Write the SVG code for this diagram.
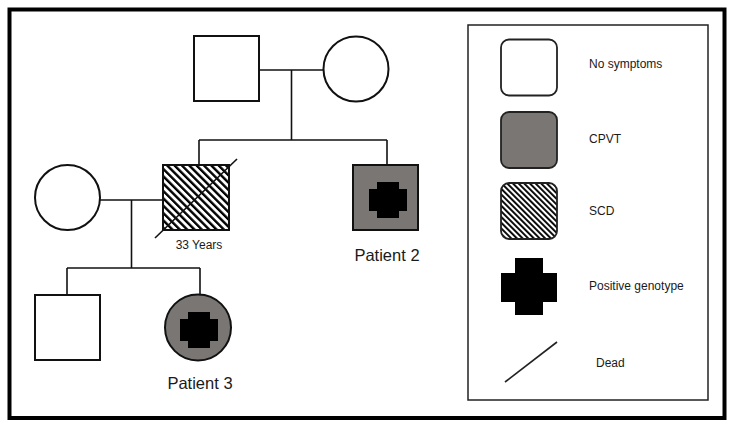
<svg xmlns="http://www.w3.org/2000/svg" width="732" height="427" viewBox="0 0 732 427">
<defs>
<pattern id="hatch" patternUnits="userSpaceOnUse" width="5.2" height="5.2" patternTransform="rotate(-45)">
<rect width="5.2" height="5.2" fill="#fff"/>
<rect width="2.4" height="5.2" fill="#000"/>
</pattern>
<pattern id="hatchL" patternUnits="userSpaceOnUse" width="4" height="4" patternTransform="rotate(-45)">
<rect width="4" height="4" fill="#fff"/>
<rect width="1.9" height="4" fill="#000"/>
</pattern>
<path id="cross" d="M-11,-18 H11 V-11 H19 V11 H11 V18 H-11 V11 H-19 V-11 H-11 Z"/>
</defs>
<style>
.sym{stroke:#111;stroke-width:2;fill:#fff}
.aff{fill:#7a7674}
.scd{fill:url(#hatch)}
.ln{stroke:#111;stroke-width:1.6;fill:none}
.t{font-family:"Liberation Sans",Arial,sans-serif;fill:#1a1a1a}
.lg{stroke:#222;stroke-width:1.8}
</style>
<rect x="0" y="0" width="732" height="427" fill="#fff"/>
<rect x="9.5" y="9.5" width="715" height="408.5" fill="none" stroke="#000" stroke-width="4"/>

<g id="connectors">
<path class="ln" d="M259,70 H323"/>
<path class="ln" d="M291.5,70 V140"/>
<path class="ln" d="M199,140 H387"/>
<path class="ln" d="M199,140 V165"/>
<path class="ln" d="M387,140 V165"/>
<path class="ln" d="M100,200 H163"/>
<path class="ln" d="M131.5,200 V268"/>
<path class="ln" d="M67,268 H200"/>
<path class="ln" d="M67,268 V295"/>
<path class="ln" d="M200,268 V295"/>
</g>

<g id="grandfather"><rect class="sym" x="194" y="36" width="65" height="65"/></g>
<g id="grandmother"><circle class="sym" cx="356" cy="69" r="32.5"/></g>
<g id="wife"><circle class="sym" cx="67.5" cy="197.5" r="32.5"/></g>
<g id="father-scd">
<rect class="sym scd" x="163" y="165" width="66" height="65"/>
<line class="ln" x1="155" y1="238" x2="237" y2="159"/>
<text class="t" x="199" y="249" font-size="12" text-anchor="middle">33 Years</text>
</g>
<g id="patient2">
<rect class="sym aff" x="353" y="165" width="65" height="65"/>
<use href="#cross" x="388" y="200" fill="#000"/>
<text class="t" x="387" y="261" font-size="16.5" text-anchor="middle">Patient 2</text>
</g>
<g id="son"><rect class="sym" x="35" y="295" width="65" height="65"/></g>
<g id="patient3">
<circle class="sym aff" cx="198" cy="327.5" r="33"/>
<use href="#cross" x="199" y="330" fill="#000"/>
<text class="t" x="200" y="389" font-size="16.5" text-anchor="middle">Patient 3</text>
</g>

<g id="legend">
<rect x="468" y="25" width="240" height="375" fill="none" stroke="#222" stroke-width="1.5"/>
<rect class="lg" x="501" y="39.5" width="56" height="56" rx="8" fill="#fff"/>
<text class="t" x="589" y="68" font-size="12">No symptoms</text>
<rect class="lg" x="501" y="112" width="56" height="56" rx="8" fill="#7a7674"/>
<text class="t" x="589" y="143" font-size="12">CPVT</text>
<rect class="lg" x="501" y="183" width="56" height="56" rx="8" fill="url(#hatchL)"/>
<text class="t" x="589" y="215" font-size="12">SCD</text>
<path d="M515,258 H543 V273 H557 V302 H543 V315 H515 V302 H501 V273 H515 Z" fill="#000"/>
<text class="t" x="589" y="290" font-size="12">Positive genotype</text>
<line x1="505" y1="382" x2="557" y2="342" stroke="#222" stroke-width="1.6"/>
<text class="t" x="596" y="367" font-size="12">Dead</text>
</g>
</svg>
